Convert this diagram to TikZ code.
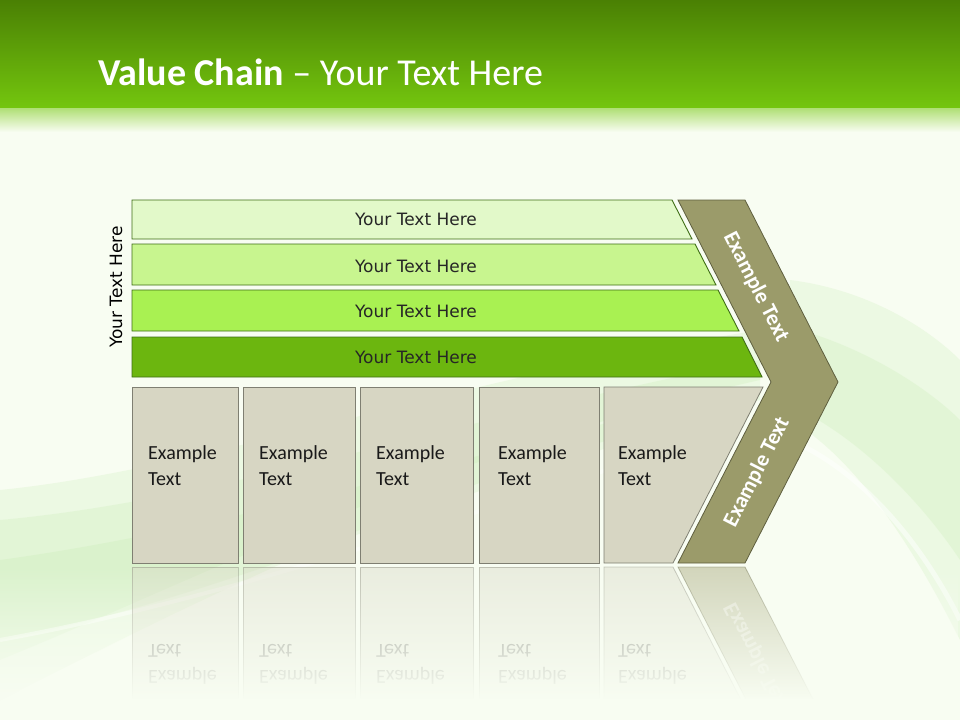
\documentclass[tikz,border=0pt]{standalone}
\usepackage{fontspec}
\setmainfont{Carlito}
\newfontfamily\bandfont{DejaVu Sans}
\usetikzlibrary{fadings}

\definecolor{pagebg}{HTML}{F8FDF2}
\definecolor{titletop}{HTML}{4A8004}
\definecolor{titlebot}{HTML}{74C60E}
\definecolor{swoosh}{HTML}{B9E8A0}
\definecolor{bandline}{HTML}{3F6E15}
\definecolor{bandA}{HTML}{E2F9C9}
\definecolor{bandB}{HTML}{C8F58F}
\definecolor{bandC}{HTML}{A9F152}
\definecolor{bandD}{HTML}{6CB60F}
\definecolor{boxfill}{HTML}{D7D6C3}
\definecolor{boxline}{HTML}{7F7F72}
\definecolor{chevfill}{HTML}{9B9B6A}
\definecolor{chevline}{HTML}{5F5F3F}

\tikzfading[name=reflcover, top color=transparent!100, bottom color=transparent!0]

\begin{document}
\begin{tikzpicture}[x=1pt, y=-1pt,
    band/.style={draw=bandline, line width=0.9pt},
    bandtext/.style={text=black!85, font=\bandfont\fontsize{17}{20}\selectfont},
    boxpart/.style={draw=boxline, fill=boxfill, line width=0.8pt},
    boxtext/.style={anchor=north west, inner sep=0pt, align=left, text=black!90, font=\fontsize{20}{26}\selectfont},
    chevron/.style={draw=chevline, fill=chevfill, line width=0.8pt},
    chevtext/.style={text=white, font=\bfseries\fontsize{22}{24}\selectfont},
    wave/.style={fill=swoosh, opacity=0.18}]
    \useasboundingbox (0,0) rectangle (960,720);
    \fill[pagebg] (0,0) rectangle (960,720);

    % soft background waves
    \fill[wave] (0,490) .. controls (200,470) and (450,380) .. (760,330) -- (760,400) .. controls (450,470) and (200,600) .. (0,700) -- cycle;
    \fill[wave] (0,520) .. controls (220,500) and (450,420) .. (760,360) -- (760,380) .. controls (450,450) and (220,570) .. (0,660) -- cycle;
    \fill[wave] (0,560) .. controls (220,530) and (450,460) .. (700,400) -- (700,420) .. controls (450,490) and (220,600) .. (0,640) -- cycle;
    \fill[wave] (790,280) .. controls (870,290) and (930,330) .. (960,360) -- (960,640) .. controls (920,560) and (860,460) .. (790,420) -- cycle;
    \fill[wave] (800,330) .. controls (870,350) and (930,390) .. (960,420) -- (960,560) .. controls (920,500) and (860,440) .. (800,410) -- cycle;
    \draw[white, line width=5pt, opacity=0.5] (790,440) .. controls (860,470) and (920,540) .. (960,620);
    \draw[white, line width=4pt, opacity=0.5] (0,640) .. controls (220,600) and (450,520) .. (700,440);

    % title bar
    \shade[top color=titletop, bottom color=titlebot] (0,0) rectangle (960,108);
    \shade[top color=titlebot!55!pagebg, bottom color=pagebg] (0,108) rectangle (960,132);
    \node[anchor=base west, inner sep=0pt, text=white, font=\fontsize{38}{42}\selectfont] (title) at (98,85) {\textbf{Value Chain} \textendash{} Your Text Here};

    % bands
    \filldraw[band, fill=bandA] (132,200) -- (672,200) -- (692,239) -- (132,239) -- cycle;
    \filldraw[band, fill=bandB] (132,244) -- (695,244) -- (716,285) -- (132,285) -- cycle;
    \filldraw[band, fill=bandC] (132,290) -- (718,290) -- (739,331) -- (132,331) -- cycle;
    \filldraw[band, fill=bandD] (132,337) -- (742,337) -- (762,377) -- (132,377) -- cycle;
    \node[bandtext] (bandone) at (416,219) {Your Text Here};
    \node[bandtext] (bandtwo) at (416,266) {Your Text Here};
    \node[bandtext] (bandthree) at (416,311) {Your Text Here};
    \node[bandtext] (bandfour) at (416,357) {Your Text Here};
    \node[bandtext, text=black, rotate=90] (sidelabel) at (116,287) {Your Text Here};

    % chevron
    \filldraw[chevron] (678,200) -- (745,200) -- (838,382) -- (745,563) -- (678,563) -- (771,382) -- cycle;
    \node[chevtext, rotate=-63] (chevtop) at (756,287) {Example Text};
    \node[chevtext, rotate=63] (chevbottom) at (757,472) {Example Text};

    % activity boxes
    \filldraw[boxpart] (132,387) rectangle (238,563);
    \filldraw[boxpart] (243,387) rectangle (355,563);
    \filldraw[boxpart] (360,387) rectangle (473,563);
    \filldraw[boxpart] (479,387) rectangle (599,563);
    \filldraw[boxpart] (604,387) -- (763,387) -- (673,563) -- (604,563) -- cycle;
    \node[boxtext] (actone) at (148,445) {Example\\Text};
    \node[boxtext] (acttwo) at (259,445) {Example\\Text};
    \node[boxtext] (actthree) at (376,445) {Example\\Text};
    \node[boxtext] (actfour) at (498,445) {Example\\Text};
    \node[boxtext] (actfive) at (618,445) {Example\\Text};

    % reflection
    \begin{scope}
      \clip (0,566) rectangle (960,698);
      \begin{scope}[shift={(0,1130)}, yscale=-1, transform shape, opacity=0.4]
        \filldraw[boxpart] (132,387) rectangle (238,563);
        \filldraw[boxpart] (243,387) rectangle (355,563);
        \filldraw[boxpart] (360,387) rectangle (473,563);
        \filldraw[boxpart] (479,387) rectangle (599,563);
        \filldraw[boxpart] (604,387) -- (763,387) -- (673,563) -- (604,563) -- cycle;
        \filldraw[chevron] (678,563) -- (745,563) -- (838,382) -- (771,382) -- cycle;
        \node[boxtext] (mirone) at (148,445) {Example\\Text};
        \node[boxtext] (mirtwo) at (259,445) {Example\\Text};
        \node[boxtext] (mirthree) at (376,445) {Example\\Text};
        \node[boxtext] (mirfour) at (498,445) {Example\\Text};
        \node[boxtext] (mirfive) at (618,445) {Example\\Text};
        \node[chevtext, rotate=63] (mirchev) at (757,472) {Example Text};
      \end{scope}
    \end{scope}
    \fill[pagebg, path fading=reflcover] (0,566) rectangle (960,700);
\end{tikzpicture}
\end{document}
